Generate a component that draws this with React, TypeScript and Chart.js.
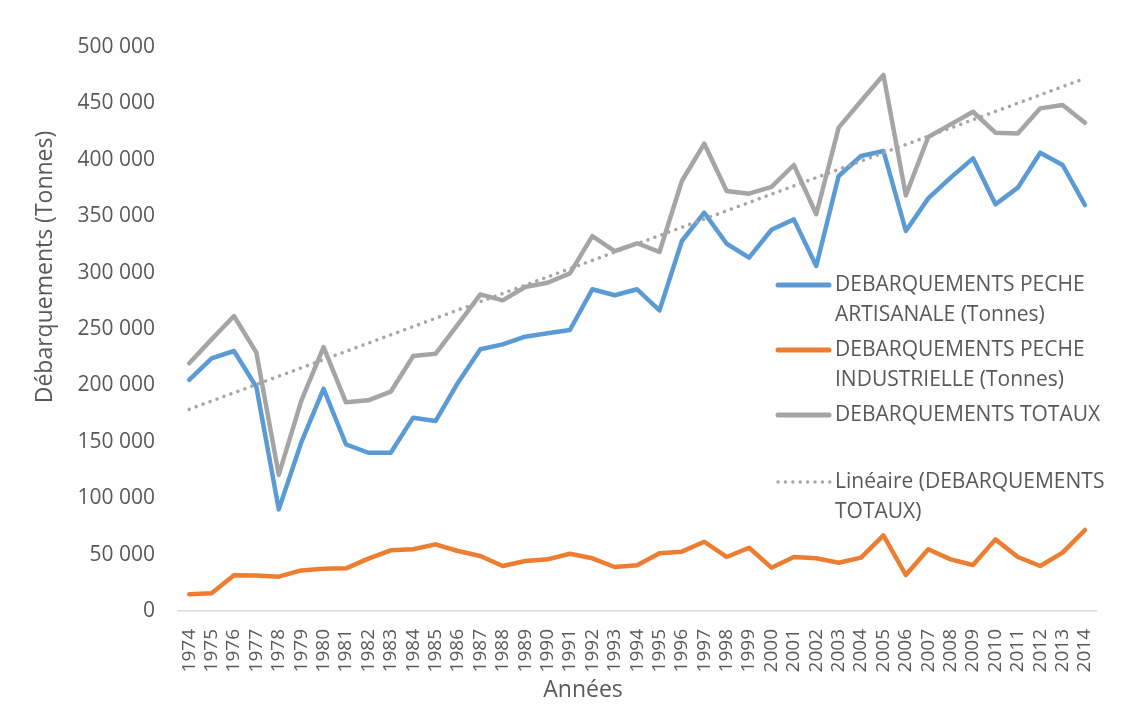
import React, { useEffect, useRef } from "react";
import { Chart, registerables } from "chart.js";

Chart.register(...registerables);

const years: string[] = [
  "1974","1975","1976","1977","1978","1979","1980","1981","1982","1983",
  "1984","1985","1986","1987","1988","1989","1990","1991","1992","1993",
  "1994","1995","1996","1997","1998","1999","2000","2001","2002","2003",
  "2004","2005","2006","2007","2008","2009","2010","2011","2012","2013","2014",
];

const artisanale: number[] = [
  204800, 224000, 230500, 198600, 90100, 149200, 197000, 147800, 140300, 140300,
  171400, 168400, 202400, 232000, 236400, 243200, 246200, 249100, 285200, 279900,
  285200, 266500, 328000, 353100, 325600, 313200, 338000, 347200, 305900, 385600,
  403400, 407800, 336900, 365800, 384200, 401300, 360500, 375300, 406300, 395400, 359900,
];

const industrielle: number[] = [
  14800, 15700, 31600, 31400, 30400, 36000, 37500, 37800, 46400, 53800,
  54700, 59100, 53200, 48800, 39900, 44300, 45800, 50800, 46700, 39000,
  40500, 51100, 52600, 61400, 47900, 56100, 38400, 47900, 46700, 42800,
  47300, 67100, 31900, 54700, 45800, 40800, 63500, 47900, 39900, 51700, 71800,
];

const totaux: number[] = [
  219600, 240800, 261500, 229000, 120600, 186000, 234000, 185000, 186800, 194400,
  226000, 228000, 254000, 280700, 275400, 287200, 291000, 299300, 332400, 319100,
  326000, 318300, 381200, 414300, 372300, 370000, 376000, 395400, 351700, 428500,
  452100, 475200, 368500, 420200, 431400, 442600, 424000, 423400, 445600, 448600, 432900,
];

// Linear trend endpoints (1974 and 2014)
const trendStart = 178800;
const trendEnd = 472200;
const trend: (number | null)[] = years.map((_, i) =>
  i === 0 ? trendStart : i === years.length - 1 ? trendEnd : null
);

const yTicks: number[] = [0, 50000, 100000, 150000, 200000, 250000, 300000, 350000, 400000, 450000, 500000];

const legendArtisanale = ["DEBARQUEMENTS PECHE", "ARTISANALE (Tonnes)"];
const legendIndustrielle = ["DEBARQUEMENTS PECHE", "INDUSTRIELLE (Tonnes)"];
const legendTotaux = ["DEBARQUEMENTS TOTAUX"];
const legendTrend = ["Linéaire (DEBARQUEMENTS", "TOTAUX)"];

const yTitle = "Débarquements (Tonnes)";
const xTitle = "Années";

const BLUE = "#5B9BD5";
const ORANGE = "#ED7D31";
const GRAY = "#A5A5A5";
const TEXT = "#595959";
const FONT = "'Open Sans', sans-serif";

function fmt(n: number): string {
  return String(n).replace(/\B(?=(\d{3})+(?!\d))/g, " ");
}

const overlayPlugin = {
  id: "overlay",
  afterDraw(chart: any) {
    const ctx: CanvasRenderingContext2D = chart.ctx;
    ctx.save();
    ctx.fillStyle = TEXT;
    ctx.font = `23px ${FONT}`;
    ctx.textAlign = "center";
    ctx.textBaseline = "middle";
    ctx.save();
    ctx.translate(45, 267);
    ctx.rotate(-Math.PI / 2);
    ctx.fillText(yTitle, 0, 0);
    ctx.restore();
    ctx.fillText(xTitle, 583, 690);

    const entries = [
      { color: BLUE, dotted: false, y: 285, lines: legendArtisanale },
      { color: ORANGE, dotted: false, y: 350, lines: legendIndustrielle },
      { color: GRAY, dotted: false, y: 415, lines: legendTotaux },
      { color: GRAY, dotted: true, y: 482, lines: legendTrend },
    ];
    ctx.font = `21px ${FONT}`;
    ctx.textAlign = "left";
    ctx.textBaseline = "middle";
    for (const e of entries) {
      ctx.strokeStyle = e.color;
      ctx.lineCap = "round";
      if (e.dotted) {
        ctx.fillStyle = e.color;
        for (let x = 778; x <= 830; x += 7.4) {
          ctx.beginPath();
          ctx.arc(x, e.y, 1.7, 0, Math.PI * 2);
          ctx.fill();
        }
      } else {
        ctx.lineWidth = 5;
        ctx.setLineDash([]);
        ctx.beginPath();
        ctx.moveTo(778, e.y);
        ctx.lineTo(829, e.y);
        ctx.stroke();
      }
      ctx.fillStyle = TEXT;
      e.lines.forEach((t, i) => ctx.fillText(t, 835, e.y + i * 30));
    }
    ctx.restore();
  },
};

export default function App() {
  const ref = useRef<HTMLCanvasElement | null>(null);

  useEffect(() => {
    if (!ref.current) return;
    const common = {
      borderWidth: 4.5,
      pointRadius: 0,
      tension: 0,
      borderJoinStyle: "round" as const,
      borderCapStyle: "round" as const,
    };
    const chart = new Chart(ref.current, {
      type: "line",
      data: {
        labels: years,
        datasets: [
          { label: legendArtisanale.join(" "), data: artisanale, borderColor: BLUE, backgroundColor: BLUE, order: 3, ...common },
          { label: legendIndustrielle.join(" "), data: industrielle, borderColor: ORANGE, backgroundColor: ORANGE, order: 2, ...common },
          { label: legendTotaux.join(" "), data: totaux, borderColor: GRAY, backgroundColor: GRAY, order: 1, ...common },
          {
            label: legendTrend.join(" "),
            data: trend,
            borderColor: GRAY,
            backgroundColor: GRAY,
            borderWidth: 3.5,
            borderDash: [0.01, 7.4],
            borderCapStyle: "round",
            pointRadius: 0,
            spanGaps: true,
            order: 0,
          },
        ],
      },
      options: {
        responsive: false,
        animation: false,
        devicePixelRatio: 1,
        layout: { padding: { top: 47, right: 16, left: 0, bottom: 0 } },
        plugins: {
          legend: { display: false },
          tooltip: { enabled: false },
        },
        scales: {
          x: {
            type: "category",
            offset: true,
            grid: { display: false, drawTicks: false },
            border: { display: true, color: "#D9D9D9", width: 1.5 },
            ticks: {
              autoSkip: false,
              minRotation: 90,
              maxRotation: 90,
              padding: 18,
              color: TEXT,
              font: { family: "'Open Sans', sans-serif", size: 19 },
            },
            afterFit: (s: any) => {
              s.height = 106;
            },
          },
          y: {
            min: 0,
            max: 500000,
            afterBuildTicks: (s: any) => {
              s.ticks = yTicks.map((v) => ({ value: v }));
            },
            grid: { display: false, drawTicks: false },
            border: { display: false },
            ticks: {
              padding: 23,
              color: TEXT,
              font: { family: "'Open Sans', sans-serif", size: 21 },
              callback: (v: any) => fmt(Number(v)),
            },
            afterFit: (s: any) => {
              s.width = 178;
            },
          },
        },
      },
      plugins: [overlayPlugin],
    });
    return () => chart.destroy();
  }, []);

  return (
    <div style={{ position: "fixed", left: 0, top: 0, width: 1126, height: 717, background: "#fff" }}>
      <canvas ref={ref} width={1126} height={717} style={{ width: 1126, height: 717, display: "block" }} />
    </div>
  );
}
